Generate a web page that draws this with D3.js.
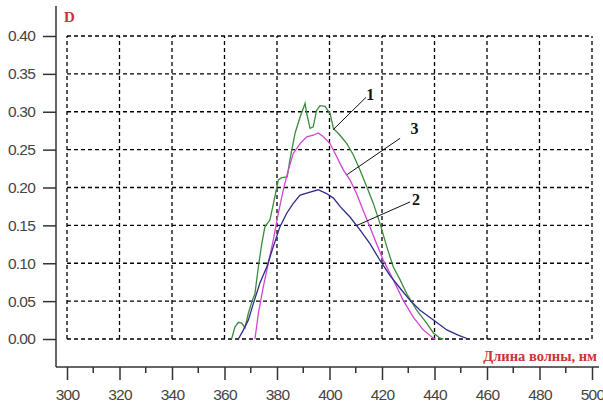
<!DOCTYPE html>
<html>
<head>
<meta charset="utf-8">
<script src="https://cdn.jsdelivr.net/npm/d3@7"></script>
<style>
  body { margin: 0; background: #fff; }
  .grid line { stroke: #000; stroke-width: 1.3; stroke-dasharray: 4,3; }
  .tick text { font-family: "Liberation Sans", Arial, sans-serif; font-size: 15.5px; letter-spacing: -0.8px; fill: #444; }
</style>
</head>
<body>
<div id="chart"></div>
<script>
// Кривая 1 (зелёная)
var wl1 = [362.7, 364, 365.3, 366.5, 367.8, 369.1, 370.4, 371.6, 372.9, 374.2, 375.4, 377.3, 379.2, 380.5, 381.8, 383.9, 384.9, 386.9, 388.8, 390.7, 391.3, 392.6, 393.8, 395.1, 396.4, 398.3, 400.2, 401.5, 404, 406.6, 409.1, 411.6, 414.2, 416.7, 419.2, 421.8, 424.3, 426.9, 429.4, 433.2, 437, 439.6, 442.1, 443.4];
var d1 = [0.0, 0.016, 0.022, 0.021, 0.015, 0.034, 0.049, 0.06, 0.095, 0.126, 0.148, 0.157, 0.188, 0.21, 0.213, 0.214, 0.236, 0.272, 0.293, 0.311, 0.298, 0.278, 0.28, 0.302, 0.308, 0.307, 0.298, 0.278, 0.269, 0.258, 0.243, 0.223, 0.201, 0.179, 0.153, 0.122, 0.095, 0.078, 0.06, 0.038, 0.021, 0.008, 0.001, 0.0];

// Кривая 2 (синяя)
var wl2 = [365.3, 367.2, 369.1, 371, 373.5, 376.1, 378.6, 381.1, 383.7, 386.2, 388.8, 392.6, 395.7, 398.9, 401.5, 404, 407.8, 411.6, 415.4, 419.2, 423, 426.9, 430.7, 434.5, 439.6, 444.7, 449, 452.9];
var d2 = [0.0, 0.012, 0.025, 0.047, 0.074, 0.095, 0.122, 0.148, 0.166, 0.179, 0.19, 0.194, 0.197, 0.192, 0.186, 0.175, 0.161, 0.144, 0.126, 0.104, 0.084, 0.067, 0.051, 0.038, 0.025, 0.012, 0.005, 0.0];

// Кривая 3 (розовая)
var wl3 = [371.6, 372.9, 374.8, 376.7, 378.6, 380.5, 382.4, 384.3, 386.2, 388.8, 391.3, 393.8, 395.7, 397.7, 400.2, 402.7, 405.3, 407.8, 410.3, 412.8, 415.4, 417.9, 420.5, 424.3, 428.1, 431.9, 435.7, 439.6, 440.5];
var d3v = [0.0, 0.034, 0.069, 0.1, 0.131, 0.166, 0.197, 0.223, 0.245, 0.258, 0.267, 0.269, 0.272, 0.267, 0.258, 0.241, 0.223, 0.21, 0.192, 0.17, 0.148, 0.126, 0.104, 0.078, 0.051, 0.029, 0.012, 0.001, 0.0];

var xTicks = [300, 320, 340, 360, 380, 400, 420, 440, 460, 480, 500];
var xMinor = [310, 330, 350, 370, 390, 410, 430, 450, 470, 490];
var yTicks = [0, 0.05, 0.10, 0.15, 0.20, 0.25, 0.30, 0.35, 0.40];

// подписи кривых: номер, позиция текста, начало и конец выноски
var labelNames = ['1', '3', '2'];
var labelPos = [[414.0, 0.315], [430.9, 0.270], [431.4, 0.177]];
var leaderFrom = [[413.9, 0.319], [426.9, 0.265], [430.7, 0.181]];
var leaderTo = [[401.3, 0.276], [406.7, 0.217], [410.5, 0.150]];

var width = 603, height = 408;

var svg = d3.select('#chart').append('svg')
    .attr('width', width)
    .attr('height', height);

var x = d3.scaleLinear().domain([300, 500]).range([67, 592]);
var y = d3.scaleLinear().domain([0, 0.4]).range([339, 36]);

var axisX = 56, axisY = 367;

// сетка
var grid = svg.append('g').attr('class', 'grid');
grid.selectAll('.gv')
    .data(xTicks)
    .enter().append('line')
    .attr('class', 'gv')
    .attr('x1', d => x(d)).attr('x2', d => x(d))
    .attr('y1', y(0)).attr('y2', y(0.4));
grid.selectAll('.gh')
    .data(yTicks)
    .enter().append('line')
    .attr('class', 'gh')
    .attr('x1', x(300)).attr('x2', x(500))
    .attr('y1', d => y(d)).attr('y2', d => y(d));

// оси
svg.append('line')
    .attr('x1', axisX).attr('x2', axisX)
    .attr('y1', 6).attr('y2', axisY)
    .attr('stroke', '#333').attr('stroke-width', 1.5);
svg.append('line')
    .attr('x1', axisX).attr('x2', 599)
    .attr('y1', axisY).attr('y2', axisY)
    .attr('stroke', '#333').attr('stroke-width', 1.5);

var yAxis = svg.append('g')
    .attr('transform', 'translate(' + axisX + ',0)')
    .call(d3.axisLeft(y).tickValues(yTicks).tickFormat(d3.format('.2f')).tickSize(13).tickPadding(8));
yAxis.select('.domain').remove();
yAxis.selectAll('.tick line').attr('stroke', '#333').attr('stroke-width', 1.5);

var xAxis = svg.append('g')
    .attr('transform', 'translate(0,' + axisY + ')')
    .call(d3.axisBottom(x).tickValues(xTicks).tickFormat(d3.format('d')).tickSize(13).tickPadding(9));
xAxis.select('.domain').remove();
xAxis.selectAll('.tick line').attr('stroke', '#333').attr('stroke-width', 1.5);

svg.append('g')
    .selectAll('line')
    .data(xMinor)
    .enter().append('line')
    .attr('x1', d => x(d)).attr('x2', d => x(d))
    .attr('y1', axisY).attr('y2', axisY + 6)
    .attr('stroke', '#333').attr('stroke-width', 1.5);

// подписи осей
svg.append('text')
    .attr('x', 64).attr('y', 22)
    .attr('fill', '#cc3333')
    .style('font-family', '"Liberation Serif", "Times New Roman", serif')
    .style('font-size', '15px')
    .style('font-weight', 'bold')
    .text('D');
svg.append('text')
    .attr('x', 597).attr('y', 361)
    .attr('text-anchor', 'end')
    .attr('fill', '#cc3333')
    .style('font-family', '"Liberation Serif", "Times New Roman", serif')
    .style('font-size', '14.5px')
    .style('font-weight', 'bold')
    .text('Длина волны, нм');

// кривые
var series = [
    { wl: wl1, d: d1, color: '#3a8c3a' },
    { wl: wl3, d: d3v, color: '#d444d4' },
    { wl: wl2, d: d2, color: '#2c2c8c' }
];
var line = d3.line().x(p => x(p[0])).y(p => y(p[1]));
series.forEach(function (s) {
    svg.append('path')
        .datum(s.wl.map((w, i) => [w, s.d[i]]))
        .attr('fill', 'none')
        .attr('stroke', s.color)
        .attr('stroke-width', 1.3)
        .attr('d', line);
});

// выноски
labelNames.forEach(function (n, i) {
    svg.append('line')
        .attr('x1', x(leaderFrom[i][0])).attr('y1', y(leaderFrom[i][1]))
        .attr('x2', x(leaderTo[i][0])).attr('y2', y(leaderTo[i][1]))
        .attr('stroke', '#111').attr('stroke-width', 1);
    svg.append('text')
        .attr('x', x(labelPos[i][0])).attr('y', y(labelPos[i][1]))
        .style('font-family', '"Liberation Serif", "Times New Roman", serif')
        .style('font-size', '16px')
        .style('font-weight', 'bold')
        .attr('fill', '#111')
        .text(n);
});
</script>
</body>
</html>
